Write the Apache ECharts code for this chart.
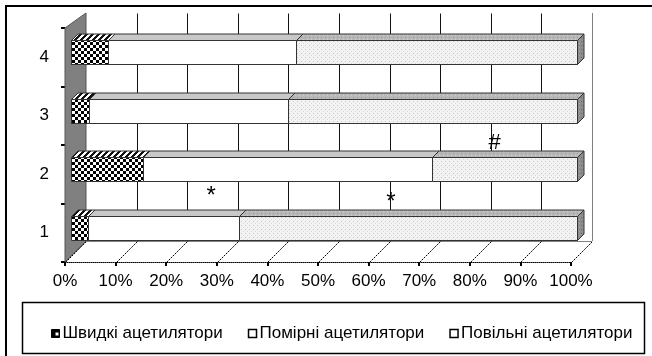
<!DOCTYPE html>
<html><head><meta charset="utf-8">
<script src="https://cdn.jsdelivr.net/npm/echarts@6/dist/echarts.min.js"></script>
<style>html,body{margin:0;padding:0;background:#fff}#c{width:652px;height:356px}</style>
</head><body><div id="c"></div>
<script>
// ---- data ----
const categories = ['1', '2', '3', '4'];
const seriesNames = ['Швидкі ацетилятори', 'Помірні ацетилятори', 'Повільні ацетилятори'];
const fastValues = [3.3, 14.3, 3.6, 7.4];
const moderateValues = [30.0, 57.1, 39.3, 37.0];
const slowValues = [66.7, 28.6, 57.1, 55.6];
const xTickValues = [0, 10, 20, 30, 40, 50, 60, 70, 80, 90, 100];
const annotationTexts = ['*', '*', '#'];
const annotationX = [28.9, 64.4, 84.9];
const annotationCat = [0.63, 0.52, 1.53];

// ---- styles ----
const FONT = "'Liberation Sans', Arial, sans-serif";
function pat(w, h, draw) {
  const c = document.createElement('canvas'); c.width = w; c.height = h;
  const g = c.getContext('2d'); draw(g); return { image: c, repeat: 'repeat' };
}
const checker = pat(6, 6, g => { g.fillStyle = '#fff'; g.fillRect(0, 0, 6, 6); g.fillStyle = '#000'; g.fillRect(0, 0, 3, 3); g.fillRect(3, 3, 3, 3); });
const hatch = pat(6, 6, g => { g.fillStyle = '#fff'; g.fillRect(0, 0, 6, 6); g.fillStyle = '#111';
  for (let i = 0; i < 6; i++) { g.fillRect((i + 0) % 6, 5 - i, 1, 1); g.fillRect((i + 1) % 6, 5 - i, 1, 1); g.fillRect((i + 2) % 6, 5 - i, 1, 1); } });
const dotsLight = pat(4, 4, g => { g.fillStyle = '#f3f3f3'; g.fillRect(0, 0, 4, 4); g.fillStyle = '#c4c4c4'; g.fillRect(1, 1, 1, 1); g.fillStyle = '#d6d6d6'; g.fillRect(3, 3, 1, 1); });
const dotsMid = pat(4, 4, g => { g.fillStyle = '#b8b8b8'; g.fillRect(0, 0, 4, 4); g.fillStyle = '#9a9a9a'; g.fillRect(1, 1, 1, 1); g.fillStyle = '#d0d0d0'; g.fillRect(3, 3, 1, 1); });
const dotsDark = pat(4, 4, g => { g.fillStyle = '#8c8c8c'; g.fillRect(0, 0, 4, 4); g.fillStyle = '#6e6e6e'; g.fillRect(1, 1, 1, 1); g.fillStyle = '#a8a8a8'; g.fillRect(3, 3, 1, 1); });
const legendFast = pat(8, 8, g => { g.fillStyle = '#000'; g.fillRect(0, 0, 8, 8); g.fillStyle = '#fff'; g.fillRect(4, 3, 3, 3); });

const frontFill = [checker, '#ffffff', dotsLight];
const topFill = [hatch, '#c8c8c8', dotsMid];
const sideFill = ['#555', '#999', dotsDark];

// geometry of the pseudo-3D look (in px)
const BAR_H = 24, BAR_D = 6.5, BAR_OX = 6, BAR_OY = -5;
const BACK_DX = 21, BACK_DY = -21, BACK_TOP_DY = -15;

const allValues = [fastValues, moderateValues, slowValues];
function stackedData(si) {
  return categories.map((c, i) => {
    let s = 0; for (let k = 0; k < si; k++) s += allValues[k][i];
    return [i, s, s + allValues[si][i]];
  });
}
const cr = v => Math.round(v) + 0.5;

function barRender(si) {
  return function (params, api) {
    const cat = api.value(0), s = api.value(1), e = api.value(2);
    const a = api.coord([s, cat]), b = api.coord([e, cat]);
    const x0 = cr(a[0] + BAR_OX), x1 = cr(b[0] + BAR_OX);
    const yT = cr(a[1] + BAR_OY - BAR_H / 2), yB = cr(a[1] + BAR_OY + BAR_H / 2);
    const d = BAR_D;
    const stroke = '#333';
    return {
      type: 'group',
      children: [
        { type: 'polygon', shape: { points: [[x0, yT], [x1, yT], [x1 + d, yT - d], [x0 + d, yT - d]] },
          style: { fill: topFill[si], stroke: stroke, lineWidth: 1 } },
        { type: 'polygon', shape: { points: [[x1, yT], [x1 + d, yT - d], [x1 + d, yB - d], [x1, yB]] },
          style: { fill: sideFill[si], stroke: stroke, lineWidth: 1 } },
        { type: 'rect', shape: { x: x0, y: yT, width: x1 - x0, height: yB - yT },
          style: { fill: frontFill[si], stroke: stroke, lineWidth: 1 } }
      ]
    };
  };
}

function frameRender(params, api) {
  const v = api.value(0);
  const cs = params.coordSys;
  const f = api.coord([v, 0]);
  const xf = cr(f[0]);
  const yf = cr(cs.y + cs.height);
  const xb = cr(f[0] + BACK_DX);
  const yb = cr(cs.y + cs.height + BACK_DY);
  const yTop = cr(cs.y + BACK_TOP_DY);
  const children = [];
  if (v > 0) {
    children.push({ type: 'line', shape: { x1: xb, y1: yTop, x2: xb, y2: yb },
      style: { stroke: v === 100 ? '#000' : '#111', lineWidth: 1, lineDash: v === 100 ? [1, 1] : null } });
  }
  children.push({ type: 'line', shape: { x1: xf, y1: yf, x2: xb, y2: yb },
    style: { stroke: '#000', lineWidth: 1, lineDash: [2, 1] } });
  if (v === 0) {
    const e = api.coord([100, 0]);
    children.push({ type: 'line', shape: { x1: xb, y1: yb, x2: cr(e[0] + BACK_DX), y2: yb },
      style: { stroke: '#000', lineWidth: 1, lineDash: [1, 1] } });
    children.push({ type: 'polygon', shape: { points: [[cs.x, cs.y], [cs.x + BACK_DX, cs.y + BACK_TOP_DY],
      [cs.x + BACK_DX, cs.y + cs.height + BACK_DY], [cs.x, cs.y + cs.height]] },
      style: { fill: '#808080', stroke: '#555', lineWidth: 1 } });
  }
  return { type: 'group', children: children };
}

function annRender(params, api) {
  const i = params.dataIndex;
  const p = api.coord([api.value(0), 0]);
  const band = api.size([0, 1])[1];
  return { type: 'text', x: p[0], y: p[1] - api.value(1) * band,
    style: { text: annotationTexts[i], font: (annotationTexts[i] === '#' ? '22px ' : '24px ') + FONT,
      fill: '#000', align: 'center', verticalAlign: 'middle' } };
}

const chart = echarts.init(document.getElementById('c'), null, { renderer: 'canvas' });
chart.setOption({
  animation: false,
  backgroundColor: '#fff',
  grid: { left: 65, top: 28, width: 506, height: 234, containLabel: false },
  xAxis: {
    type: 'value', min: 0, max: 100, interval: 10,
    axisLine: { show: true, lineStyle: { color: '#000', type: 'dotted', width: 1 } },
    axisTick: { show: true, length: 4, lineStyle: { color: '#000', width: 2 } },
    axisLabel: { formatter: '{value}%', fontSize: 17, color: '#000', fontFamily: FONT, margin: 11 },
    splitLine: { show: false }
  },
  yAxis: {
    type: 'category', data: categories,
    axisLine: { show: true, lineStyle: { color: '#000', type: 'dotted', width: 1 } },
    axisTick: { show: true, length: 4, lineStyle: { color: '#000', width: 2 } },
    axisLabel: { fontSize: 17, color: '#000', fontFamily: FONT, margin: 16 },
    splitLine: { show: false }
  },
  legend: {
    left: 46, top: 320, icon: 'rect', itemWidth: 8, itemHeight: 8, itemGap: 25,
    textStyle: { fontSize: 17, color: '#000', fontFamily: FONT, padding: [0, 0, 0, -2] },
    data: [
      { name: seriesNames[0], itemStyle: { color: legendFast, borderColor: '#000', borderWidth: 1 } },
      { name: seriesNames[1], itemStyle: { color: '#fff', borderColor: '#000', borderWidth: 1.5 } },
      { name: seriesNames[2], itemStyle: { color: '#fff', borderColor: '#000', borderWidth: 1.5 } }
    ]
  },
  graphic: [
    { type: 'rect', shape: { x: 6, y: 6, width: 660, height: 370 }, style: { fill: null, stroke: '#000', lineWidth: 2 }, z: 100 },
    { type: 'rect', shape: { x: 22.5, y: 302.5, width: 622, height: 51 }, style: { fill: null, stroke: '#000', lineWidth: 1.5 }, z: 100 }
  ],
  series: [
    { type: 'custom', name: '_frame', renderItem: frameRender, data: xTickValues.map(v => [v]),
      encode: { x: 0 }, z: 1, silent: true },
    { type: 'custom', name: seriesNames[0], renderItem: barRender(0), data: stackedData(0), encode: { x: [1, 2], y: 0 }, z: 2, itemStyle: { color: '#000' } },
    { type: 'custom', name: seriesNames[1], renderItem: barRender(1), data: stackedData(1), encode: { x: [1, 2], y: 0 }, z: 2, itemStyle: { color: '#fff' } },
    { type: 'custom', name: seriesNames[2], renderItem: barRender(2), data: stackedData(2), encode: { x: [1, 2], y: 0 }, z: 2, itemStyle: { color: '#fff' } },
    { type: 'custom', name: '_ann', renderItem: annRender, data: annotationX.map((v, i) => [v, annotationCat[i]]),
      encode: { x: 0 }, z: 3, silent: true }
  ]
});
</script>
</body></html>
